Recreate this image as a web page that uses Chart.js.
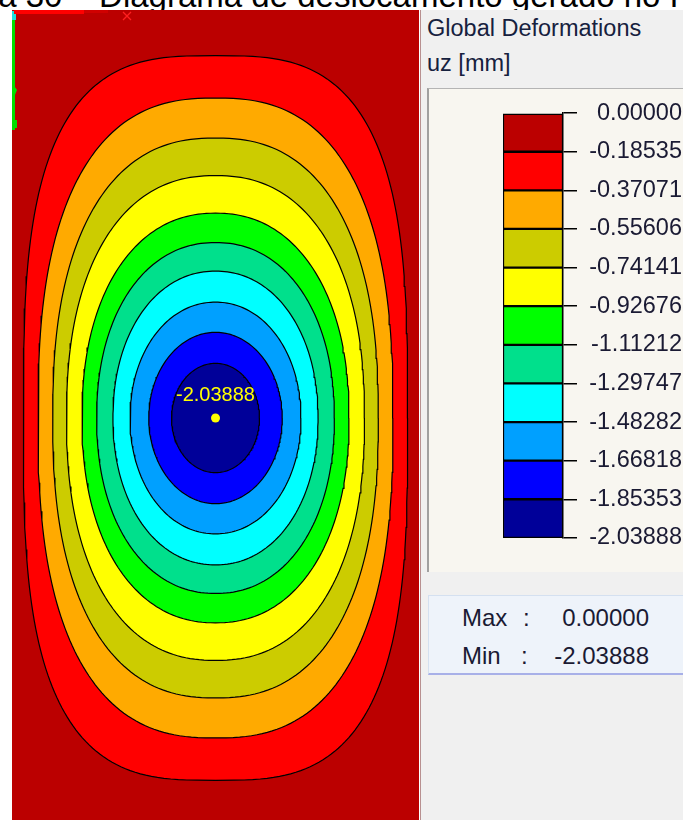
<!DOCTYPE html>
<html lang="pt">
<head>
<meta charset="utf-8">
<title>Deslocamento uz</title>
<script src="https://cdn.jsdelivr.net/npm/chart.js@4.4.1/dist/chart.umd.min.js"></script>
<style>
  body {
    margin: 0;
    width: 683px;
    height: 820px;
    overflow: hidden;
    position: relative;
    background: #fff;
    font-family: "Liberation Sans", Arial, sans-serif;
  }
  #caption {
    position: absolute;
    left: -77px;
    top: -21px;
    font-size: 33px;
    line-height: 33px;
    white-space: nowrap;
    color: #000;
  }
  #plate {
    position: absolute;
    left: 12px;
    top: 10px;
  }
  #divider {
    position: absolute;
    left: 420px;
    top: 10px;
    width: 1px;
    height: 810px;
    background: #b89090;
  }
  #panel {
    position: absolute;
    left: 421px;
    top: 10px;
    width: 262px;
    height: 810px;
    background: #f0f0f0;
    overflow: hidden;
    color: #16213e;
  }
  .txt {
    position: absolute;
    font-size: 23.5px;
    line-height: 23.5px;
    white-space: nowrap;
  }
  #legendBox {
    position: absolute;
    left: 6px;
    top: 78px;
    width: 300px;
    height: 484px;
    background: #f8f6f0;
    border-top: 1px solid #b4b4b4;
    border-left: 2px solid #a0a0a0;
    box-sizing: border-box;
  }
  #legend {
    position: absolute;
    left: 74px;
    top: 79px;
  }
  #extremes {
    position: absolute;
    left: 7px;
    top: 585px;
    width: 300px;
    height: 80px;
    background: #eef3fa;
    border: 1px solid #d4e0f0;
    border-bottom: 2px solid #a8b0e8;
    box-sizing: border-box;
  }
  .ext {
    position: absolute;
    font-size: 24px;
    line-height: 24px;
    white-space: nowrap;
    color: #1a1a33;
  }
</style>
</head>
<body>
<div id="caption">Figura 30 – Diagrama de deslocamento gerado no RFEM</div>

<canvas id="plate" width="407" height="816"></canvas>

<div id="divider"></div>
<div id="panel">
  <div class="txt" style="left:6px;top:7px;">Global Deformations</div>
  <div class="txt" style="left:6px;top:42px;">uz [mm]</div>
  <div id="legendBox"></div>
  <canvas id="legend" width="187" height="473"></canvas>
  <div id="extremes"></div>
  <div class="ext" style="left:41px;top:596px;">Max</div>
  <div class="ext" style="left:102px;top:596px;">:</div>
  <div class="ext" id="maxVal" style="right:34px;top:596px;"></div>
  <div class="ext" style="left:41px;top:634px;">Min</div>
  <div class="ext" style="left:100px;top:634px;">:</div>
  <div class="ext" id="minVal" style="right:34px;top:634px;"></div>
</div>

<script>
"use strict";

// uz contour levels [mm], from max down to min
const levels = [0, -0.18535, -0.37071, -0.55606, -0.74141, -0.92676,
  -1.11212, -1.29747, -1.48282, -1.66818, -1.85353, -2.03888];

// one colour per band between two levels
const bandColors = ["#bb0000", "#ff0000", "#ffaa00", "#cccc00", "#ffff00",
  "#00ff00", "#00e08c", "#00ffff", "#00a0ff", "#0000ff", "#000099"];

// isolines for levels[1..10]: half width / half height [m] and roundness
const halfWidth = [2.36, 2.18, 2.00, 1.83, 1.64, 1.46, 1.26, 1.05, 0.82, 0.54];
const halfHeight = [4.44, 3.92, 3.43, 2.97, 2.51, 2.15, 1.80, 1.42, 1.05, 0.67];
const roundness = [3.1, 2.55, 2.4, 2.3, 2.2, 2.15, 2.1, 2.05, 2.0, 2.0];

// plate size [m] and location of the extreme value
const plateWidth = 5;
const plateHeight = 10;
const minPoint = { x: 2.5, y: 5 };

const maxValue = levels[0];
const minValue = levels[levels.length - 1];

// closed isoline around the extreme point
const outline = (rx, ry, n) => {
  const pts = [];
  const steps = 240;
  for (let i = 0; i <= steps; i++) {
    const t = (i / steps) * Math.PI * 2;
    const c = Math.cos(t);
    const s = Math.sin(t);
    pts.push({
      x: minPoint.x + rx * Math.sign(c) * Math.pow(Math.abs(c), 2 / n),
      y: minPoint.y + ry * Math.sign(s) * Math.pow(Math.abs(s), 2 / n),
    });
  }
  return pts;
};

// plate colour outside the first isoline
const plateBackground = {
  id: "plateBackground",
  beforeDatasetsDraw(chart) {
    const { ctx, chartArea } = chart;
    ctx.save();
    ctx.fillStyle = bandColors[0];
    ctx.fillRect(chartArea.left, chartArea.top, chartArea.width, chartArea.height);
    ctx.restore();
  },
};

// value label above the extreme point + small global axes glyph
const plateMarks = {
  id: "plateMarks",
  afterDatasetsDraw(chart) {
    const { ctx } = chart;
    const meta = chart.getDatasetMeta(chart.data.datasets.length - 1);
    const p = meta.data[0];
    ctx.save();
    ctx.fillStyle = "#ffff00";
    ctx.font = '20px "Liberation Sans", Arial, sans-serif';
    ctx.textAlign = "center";
    ctx.textBaseline = "middle";
    ctx.fillText(minValue.toFixed(5), p.x, p.y - 23);

    // global axes in the corner
    ctx.fillStyle = "#00e000";
    ctx.fillRect(0, 2, 3, 118);
    ctx.beginPath();
    ctx.moveTo(0, 73);
    ctx.lineTo(5, 80);
    ctx.lineTo(0, 92);
    ctx.fill();
    ctx.fillRect(3, 110, 2, 8);
    ctx.fillStyle = "#20e0e0";
    ctx.fillRect(0, 1, 4, 9);
    ctx.fillStyle = "#ff0000";
    ctx.fillRect(2, 0, 70, 4);
    ctx.fillStyle = "#d00000";
    ctx.fillRect(72, 0, 24, 3);
    ctx.strokeStyle = "#ff2020";
    ctx.lineWidth = 1.3;
    ctx.beginPath();
    ctx.moveTo(111, 2);
    ctx.lineTo(119, 10);
    ctx.moveTo(119, 2);
    ctx.lineTo(111, 10);
    ctx.stroke();
    ctx.restore();
  },
};

const contourSets = halfWidth.map((rx, k) => ({
  data: outline(rx, halfHeight[k], roundness[k]),
  showLine: true,
  fill: "shape",
  backgroundColor: bandColors[k + 1],
  borderColor: "#000",
  borderWidth: 1.2,
  pointRadius: 0,
  tension: 0,
  order: halfWidth.length - k,
}));

new Chart(document.getElementById("plate").getContext("2d"), {
  type: "scatter",
  data: {
    datasets: [
      ...contourSets,
      {
        data: [minPoint],
        pointRadius: 4.5,
        pointBackgroundColor: "#ffff00",
        pointBorderWidth: 0,
        order: -1,
      },
    ],
  },
  options: {
    responsive: false,
    animation: false,
    devicePixelRatio: 1,
    layout: { padding: 0, autoPadding: false },
    plugins: { legend: { display: false }, tooltip: { enabled: false } },
    scales: {
      x: { type: "linear", min: 0, max: plateWidth, display: false },
      y: { type: "linear", min: 0, max: plateHeight, display: false },
    },
  },
  plugins: [plateBackground, plateMarks],
});

// colour scale: one floating bar per band
new Chart(document.getElementById("legend").getContext("2d"), {
  type: "bar",
  data: {
    labels: ["uz"],
    datasets: bandColors.map((c, i) => ({
      data: [[levels[i + 1], levels[i]]],
      backgroundColor: c,
      borderColor: "#000",
      borderWidth: 1.5,
      borderSkipped: false,
      grouped: false,
      barPercentage: 1,
      categoryPercentage: 1,
    })),
  },
  options: {
    responsive: false,
    animation: false,
    devicePixelRatio: 1,
    layout: { padding: { left: 8, top: 20, bottom: 20, right: 0 }, autoPadding: false },
    plugins: { legend: { display: false }, tooltip: { enabled: false } },
    scales: {
      x: { display: false },
      y: {
        position: "right",
        min: minValue,
        max: maxValue,
        afterBuildTicks: (scale) => {
          scale.ticks = levels.map((v) => ({ value: v }));
        },
        afterFit: (scale) => {
          scale.width = 119;
        },
        grid: {
          drawOnChartArea: false,
          drawTicks: true,
          tickLength: 14,
          color: "#000",
          lineWidth: 1.5,
        },
        border: { display: true, color: "#000", width: 1.5 },
        ticks: {
          padding: 10,
          crossAlign: "far",
          color: "#1a1a33",
          font: { family: '"Liberation Sans", Arial, sans-serif', size: 23.5 },
          callback: (v) => Number(v).toFixed(5),
        },
      },
    },
  },
});

document.getElementById("maxVal").textContent = maxValue.toFixed(5);
document.getElementById("minVal").textContent = minValue.toFixed(5);
</script>
</body>
</html>
